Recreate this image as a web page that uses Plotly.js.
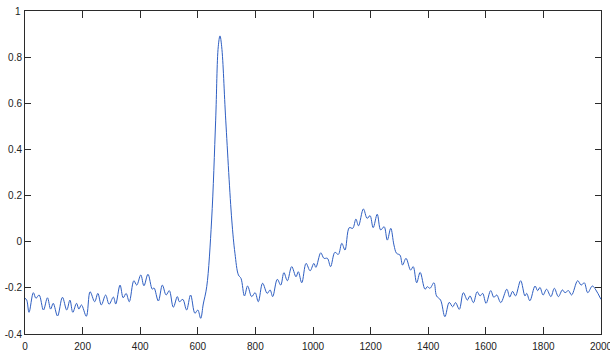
<!DOCTYPE html>
<html>
<head>
<meta charset="utf-8">
<script src="https://cdn.plot.ly/plotly-3.0.1.min.js"></script>
<style>
html,body{margin:0;padding:0;background:#fff;}
#chart{width:610px;height:354px;}
</style>
</head>
<body>
<div id="chart"></div>
<script>
// Sample index (at the turning points)
const sampleX = [
  0, 6, 14, 29, 38, 49, 64, 78, 89, 98, 113, 130, 145, 156, 166, 179, 187, 196, 213, 226,
  242, 253, 265, 280, 292, 307, 315, 330, 341, 351, 362, 378, 388, 402, 413, 427, 442, 448, 463, 477,
  490, 501, 515, 529, 536, 548, 561, 575, 590, 600, 610, 619, 631, 648, 662, 671, 677, 683, 697, 718,
  729, 741, 750, 762, 773, 787, 799, 810, 825, 841, 851, 860, 876, 888, 899, 911, 926, 941, 949, 961,
  976, 990, 1003, 1010, 1027, 1038, 1050, 1061, 1076, 1088, 1100, 1111, 1126, 1138, 1149, 1158, 1175, 1188, 1198, 1209,
  1223, 1235, 1247, 1258, 1270, 1281, 1290, 1302, 1311, 1323, 1339, 1348, 1360, 1372, 1389, 1397, 1406, 1420, 1429, 1443,
  1458, 1473, 1485, 1495, 1508, 1522, 1536, 1545, 1557, 1570, 1580, 1589, 1601, 1617, 1628, 1638, 1652, 1673, 1683, 1693,
  1703, 1721, 1736, 1742, 1753, 1771, 1780, 1788, 1799, 1811, 1826, 1838, 1852, 1866, 1875, 1887, 1898, 1919, 1931, 1942,
  1954, 1970, 1982, 2000
];
// Signal amplitude at those samples
const signalY = [
  -0.245, -0.253, -0.306, -0.221, -0.245, -0.231, -0.296, -0.243, -0.292, -0.267, -0.322, -0.241, -0.296, -0.253, -0.306, -0.267, -0.292, -0.274, -0.323, -0.217,
  -0.260, -0.224, -0.274, -0.231, -0.271, -0.240, -0.270, -0.188, -0.243, -0.224, -0.260, -0.169, -0.188, -0.144, -0.191, -0.141, -0.206, -0.200, -0.257, -0.188,
  -0.231, -0.212, -0.284, -0.238, -0.260, -0.250, -0.296, -0.231, -0.310, -0.296, -0.332, -0.270, -0.195, 0.094, 0.527, 0.845, 0.892, 0.845, 0.527, 0.094,
  -0.050, -0.144, -0.159, -0.235, -0.192, -0.238, -0.221, -0.260, -0.180, -0.224, -0.209, -0.238, -0.163, -0.188, -0.134, -0.169, -0.108, -0.152, -0.130, -0.178,
  -0.094, -0.126, -0.094, -0.111, -0.048, -0.072, -0.072, -0.108, -0.046, -0.055, -0.007, -0.036, 0.061, 0.058, 0.098, 0.069, 0.142, 0.101, 0.113, 0.061,
  0.119, 0.051, 0.065, 0.007, 0.058, -0.014, -0.050, -0.058, -0.101, -0.072, -0.123, -0.108, -0.178, -0.133, -0.206, -0.195, -0.202, -0.178, -0.235, -0.253,
  -0.325, -0.263, -0.282, -0.264, -0.293, -0.221, -0.253, -0.235, -0.264, -0.217, -0.235, -0.224, -0.267, -0.212, -0.241, -0.231, -0.264, -0.206, -0.240, -0.215,
  -0.235, -0.169, -0.235, -0.224, -0.256, -0.192, -0.212, -0.198, -0.231, -0.206, -0.238, -0.202, -0.238, -0.209, -0.221, -0.212, -0.231, -0.169, -0.188, -0.178,
  -0.221, -0.192, -0.209, -0.250
];

const xTickVals = [0, 200, 400, 600, 800, 1000, 1200, 1400, 1600, 1800, 2000];
const xTickText = ["0", "200", "400", "600", "800", "1000", "1200", "1400", "1600", "1800", "2000"];
const yTickVals = [-0.4, -0.2, 0, 0.2, 0.4, 0.6, 0.8, 1];
const yTickText = ["-0.4", "-0.2", "0", "0.2", "0.4", "0.6", "0.8", "1"];

const tickFont = {family: 'Liberation Sans, Arial, sans-serif', size: 10, color: '#222'};

// The topmost y label sits on the range edge; it is placed as an annotation at that tick value
const lastY = yTickVals.length - 1;
const yTickTextShown = yTickText.map((t, i) => i === lastY ? '' : t);

const trace = {
  x: sampleX,
  y: signalY,
  type: 'scatter',
  mode: 'lines',
  line: {color: '#2f5fc2', width: 1, shape: 'spline', smoothing: 1},
  hoverinfo: 'skip'
};

const axisCommon = {
  showline: true,
  linecolor: '#2b2b2b',
  linewidth: 1,
  mirror: 'ticks',
  ticks: 'inside',
  tickcolor: '#2b2b2b',
  tickwidth: 1,
  showgrid: false,
  zeroline: false,
  tickfont: tickFont,
  tickmode: 'array',
  ticklabeloverflow: 'allow'
};

const layout = {
  width: 610,
  height: 354,
  margin: {l: 25, r: 9, t: 11, b: 20},
  paper_bgcolor: '#fff',
  plot_bgcolor: '#fff',
  showlegend: false,
  xaxis: Object.assign({}, axisCommon, {
    range: [0, 2000],
    tickvals: xTickVals,
    ticktext: xTickText,
    ticklen: 7,
    ticklabelstandoff: 3
  }),
  yaxis: Object.assign({}, axisCommon, {
    range: [-0.4, 1],
    tickvals: yTickVals,
    ticktext: yTickTextShown,
    ticklen: 6
  }),
  annotations: [{
    xref: 'paper', yref: 'y',
    x: 0, y: yTickVals[lastY],
    text: yTickText[lastY],
    showarrow: false,
    xanchor: 'right', yanchor: 'middle',
    xshift: -2,
    font: tickFont
  }]
};

Plotly.newPlot('chart', [trace], layout, {displayModeBar: false, staticPlot: true});
</script>
</body>
</html>
